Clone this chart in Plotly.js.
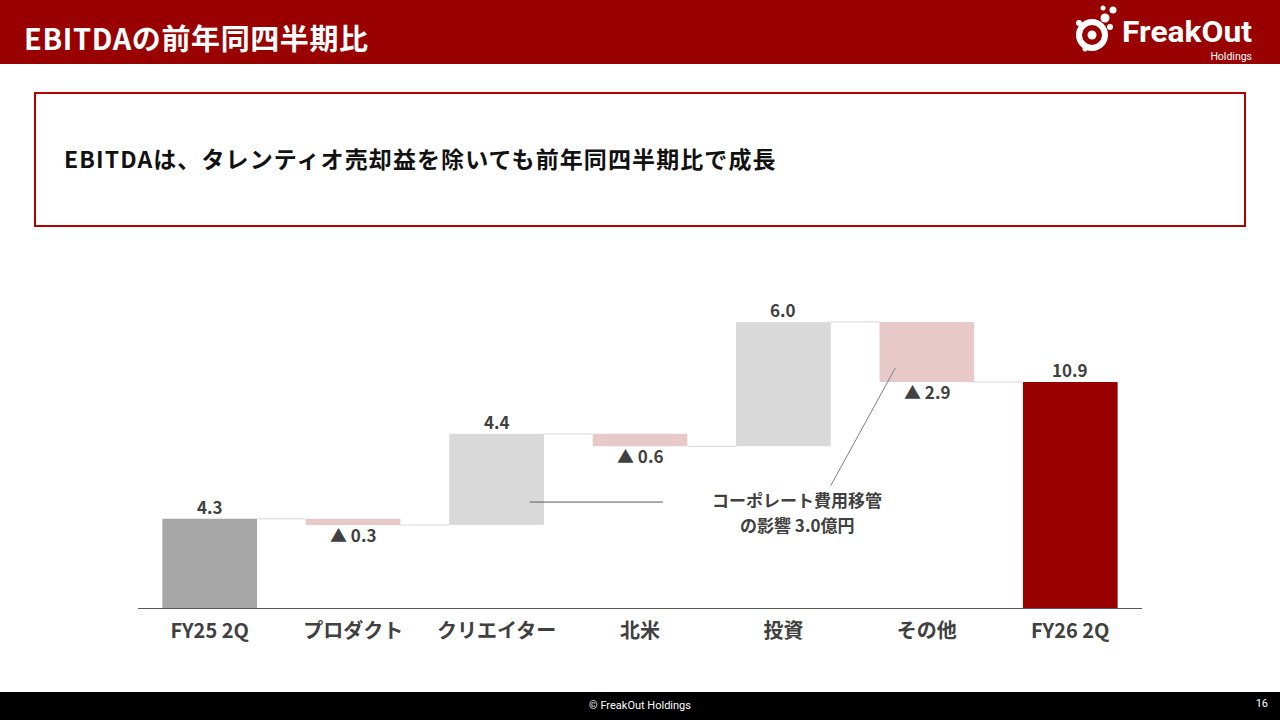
<!DOCTYPE html>
<html>
<head>
<meta charset="utf-8">
<script src="https://cdn.plot.ly/plotly-3.0.1.min.js"></script>
<style>
  html, body { margin:0; padding:0; width:1280px; height:720px; overflow:hidden; background:#fff;
    font-family:"Noto Sans CJK JP","Noto Sans",sans-serif; }
  #header { position:absolute; left:0; top:0; width:1280px; height:64px; background:#990000; }
  #title { position:absolute; left:24px; top:16px; color:#fff; font-size:29px; font-weight:700; line-height:42px; letter-spacing:0.6px; }
  #logo { position:absolute; left:1066px; top:2px; width:200px; height:62px; }
  #box { position:absolute; left:34px; top:92px; width:1208px; height:131px; border:2px solid #b40000; }
  #boxtext { position:absolute; left:28px; top:46px; font-size:23px; font-weight:700; color:#111; line-height:36px; letter-spacing:1.1px; }
  #footer { position:absolute; left:0; top:692px; width:1280px; height:28px; background:#000; color:#fff; font-size:11px; }
  #copy { position:absolute; left:0; width:1280px; text-align:center; top:7px; font-family:"Roboto","Noto Sans",sans-serif; }
  #page { position:absolute; right:12px; top:5px; font-family:"Roboto","Noto Sans",sans-serif; }
  #chart { position:absolute; left:0; top:0; width:1280px; height:720px; }
</style>
</head>
<body>
<div id="header">
  <div id="title">EBITDAの前年同四半期比</div>
  <svg id="logo" viewBox="0 0 200 62">
    <g fill="#fff">
      <circle cx="26" cy="33" r="13" fill="none" stroke="#fff" stroke-width="6"/>
      <circle cx="26" cy="33" r="4.5"/>
      <circle cx="39" cy="16" r="4.5"/>
      <circle cx="47" cy="8" r="3.5"/>
      <circle cx="37" cy="6" r="2.5"/>
      <circle cx="44" cy="25" r="3"/>
      <circle cx="13" cy="21" r="3"/>
      <circle cx="19" cy="47" r="2.5"/>
    </g>
    <text x="56" y="40" fill="#fff" font-family="Roboto, 'Noto Sans', sans-serif" font-weight="700" font-size="30" textLength="130" lengthAdjust="spacingAndGlyphs">FreakOut</text>
    <text x="186" y="58" fill="#fff" text-anchor="end" font-family="Roboto, 'Noto Sans', sans-serif" font-size="10.5">Holdings</text>
  </svg>
</div>
<div id="box"><div id="boxtext">EBITDAは、タレンティオ売却益を除いても前年同四半期比で成長</div></div>
<div id="footer"><div id="copy">© FreakOut Holdings</div><div id="page">16</div></div>
<div id="chart"></div>
<script>
// ---- data ----
const categories = ["FY25 2Q", "プロダクト", "クリエイター", "北米", "投資", "その他", "FY26 2Q"];
const measures   = ["absolute", "relative", "relative", "relative", "relative", "relative", "total"];
const values     = [4.3, -0.3, 4.4, -0.6, 6.0, -2.9, 10.9];
const noteLines  = ["コーポレート費用移管", "の影響 3.0億円"];

// ---- styles ----
const colStart = "#a6a6a6", colUp = "#d9d9d9", colDown = "#e8c9c9", colEnd = "#990000";
const txtCol = "#404040";
const halfW = 0.33;
const labFont = { family: "Noto Sans CJK JP, Noto Sans", size: 17, color: txtCol, weight: 700 };

// compute bars from data
let running = 0;
const bases = [], heights = [], colors = [], levels = [];
values.forEach((v, i) => {
  const m = measures[i];
  if (m === "absolute") { bases.push(0); heights.push(v); running = v; colors.push(colStart); }
  else if (m === "total") { bases.push(0); heights.push(v); running = v; colors.push(colEnd); }
  else {
    const next = running + v;
    bases.push(Math.min(running, next)); heights.push(Math.abs(v));
    colors.push(v >= 0 ? colUp : colDown);
    running = next;
  }
  levels.push(running);
});

const bar = {
  type: "bar", x: categories.map((c, i) => i), y: heights, base: bases,
  marker: { color: colors, line: { width: 0 } }, width: 2 * halfW,
  hoverinfo: "skip", showlegend: false
};

const shapes = [];
for (let i = 0; i < values.length - 1; i++) {
  shapes.push({ type: "line", xref: "x", yref: "y", x0: i + halfW, x1: i + 1 - halfW,
    y0: levels[i], y1: levels[i], line: { color: "#d9d9d9", width: 1 } });
}
shapes.push({ type: "line", xref: "x", yref: "y", x0: 2.23, x1: 3.16, y0: 5.11, y1: 5.11, line: { color: "#595959", width: 1 } });
shapes.push({ type: "line", xref: "x", yref: "y", x0: 4.78, x1: 4.33, y0: 11.58, y1: 5.9, line: { color: "#7f7f7f", width: 1 } });

const annotations = [];
values.forEach((v, i) => {
  const top = bases[i] + heights[i];
  if (v >= 0 || measures[i] !== "relative") {
    annotations.push({ x: i, y: top, xref: "x", yref: "y", yanchor: "bottom", yshift: -2, showarrow: false,
      text: v.toFixed(1), font: labFont });
  } else {
    annotations.push({ x: i, y: bases[i], xref: "x", yref: "y", yanchor: "top", yshift: 5, showarrow: false,
      text: "▲ " + Math.abs(v).toFixed(1), font: labFont });
  }
});
const noteY = [5.24, 4.04];
noteLines.forEach((t, k) => {
  annotations.push({ x: 4.095, y: noteY[k], xref: "x", yref: "y", yanchor: "middle", showarrow: false, borderpad: 0,
    text: t, font: { family: "Noto Sans CJK JP", size: 17, color: txtCol, weight: 700 } });
});

const layout = {
  width: 1280, height: 720,
  margin: { l: 138, r: 138, t: 297, b: 112 },
  paper_bgcolor: "rgba(0,0,0,0)", plot_bgcolor: "rgba(0,0,0,0)",
  xaxis: { range: [-0.5, categories.length - 0.5], tickmode: "array", tickvals: categories.map((c, i) => i),
    ticktext: categories, showgrid: false, zeroline: false, showline: true, linecolor: "#595959", linewidth: 1,
    ticks: "", ticklen: 0, ticklabelstandoff: 5,
    tickfont: { family: "Noto Sans CJK JP", size: 20, color: txtCol, weight: 700 }, fixedrange: true },
  yaxis: { range: [0, 15], visible: false, showgrid: false, zeroline: false, fixedrange: true },
  shapes: shapes, annotations: annotations, showlegend: false
};

Plotly.newPlot("chart", [bar], layout, { staticPlot: true, displayModeBar: false });
</script>
</body>
</html>
